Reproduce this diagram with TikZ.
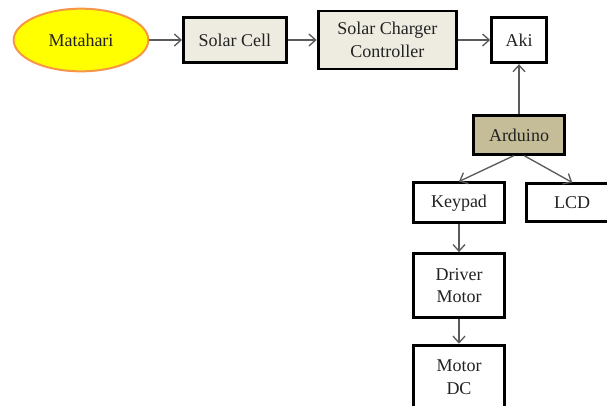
\documentclass[tikz,border=0pt]{standalone}
\usepackage{fontspec}
\setmainfont{Liberation Serif}
\usepackage{tikz}
\usetikzlibrary{shapes.geometric,arrows.meta,positioning}
\usepackage{xcolor}
\definecolor{sunyellow}{RGB}{255,255,0}
\definecolor{sunorange}{RGB}{247,150,70}
\definecolor{lightbeige}{RGB}{238,236,225}
\definecolor{darkbeige}{RGB}{196,189,151}
\definecolor{arrowgray}{RGB}{90,90,90}
\definecolor{textgray}{RGB}{34,34,34}

\begin{document}
\begin{tikzpicture}[
    box/.style={draw=black, line width=2.2pt, minimum width=68pt, minimum height=30pt, align=center, inner sep=2pt, text=textgray, font=\fontsize{13.5}{17}\selectfont},
    arr/.style={-{Straight Barb[length=5pt,width=9pt]}, draw=arrowgray, line width=1pt}
]
\useasboundingbox (-60.75pt,30pt) rectangle (394.5pt,-273.75pt);
\clip (-60.75pt,30pt) rectangle (394.5pt,-273.75pt);

\node[ellipse, draw=sunorange, line width=1.5pt, fill=sunyellow, minimum width=101pt, minimum height=47pt, text=textgray, font=\fontsize{13.5}{17}\selectfont] (sun) at (0,0) {Matahari};
\node[box, fill=lightbeige, minimum width=77pt, minimum height=34pt, right=24.5pt of sun] (cell) {Solar Cell};
\node[box, fill=lightbeige, minimum width=104pt, minimum height=43.5pt, right=21.75pt of cell] (scc) {Solar Charger\\Controller};
\node[box, fill=white, minimum width=41pt, minimum height=34pt, right=24pt of scc] (aki) {Aki};
\node[box, fill=darkbeige, minimum height=29pt, below=37.5pt of aki] (ard) {Arduino};
\node[box, fill=white, below=19.3pt of ard, xshift=-45pt] (keypad) {Keypad};
\node[box, fill=white, minimum width=69pt, minimum height=28.5pt, right=14.2pt of keypad] (lcd) {LCD};
\node[box, fill=white, minimum height=48pt, below=20.8pt of keypad] (driver) {Driver\\Motor};
\node[box, fill=white, minimum height=48pt, below=18.5pt of driver] (motor) {Motor\\DC};

\draw[arr] (sun) -- (cell);
\draw[arr] (cell) -- (scc);
\draw[arr] (scc) -- (aki);
\draw[arr] (ard) -- (aki);
\draw[arr] ([xshift=-4pt]ard.south) -- (keypad.north);
\draw[arr] ([xshift=4pt]ard.south) -- (lcd.north);
\draw[arr] (keypad) -- (driver);
\draw[arr] (driver) -- (motor);
\end{tikzpicture}
\end{document}
